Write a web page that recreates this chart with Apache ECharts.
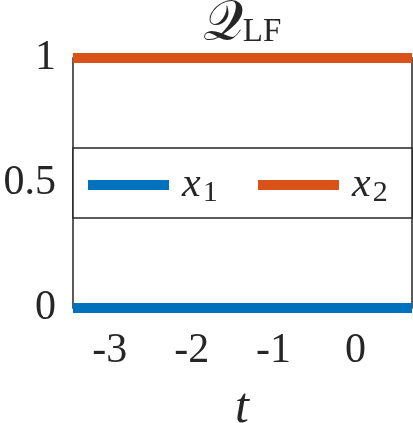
<!DOCTYPE html>
<html>
<head>
<meta charset="utf-8">
<script src="https://cdn.jsdelivr.net/npm/echarts@6/dist/echarts.min.js"></script>
<style>
html,body{margin:0;padding:0;background:#fff;}
#c{width:413px;height:423px;}
</style>
</head>
<body>
<div id="c"></div>
<script>
// Data
var tValues = [-3.45, 0.69];
var x1Values = [0, 0];
var x2Values = [1, 1];
var xTickLabels = [-3, -2, -1, 0];
var yTicks = [0, 0.5, 1];
var seriesNames = ['x1', 'x2'];
var seriesSubs = ['1', '2'];
var colors = ['#0072BD', '#D95319'];
var xAxisName = 't';

var FONT = 'Liberation Serif';
var TXT = '#262626';

function pairs(xs, ys) { return xs.map(function (x, i) { return [x, ys[i]]; }); }

var chart = echarts.init(document.getElementById('c'), null, {renderer: 'canvas'});

function legendFor(i, left) {
  return {
    show: true,
    data: [seriesNames[i]],
    left: left,
    top: 162,
    padding: 0,
    itemWidth: 81,
    itemHeight: 10,
    icon: 'rect',
    formatter: function () { return '{x|x}{s|' + seriesSubs[i] + '}'; },
    textStyle: {
      padding: [0, 0, 0, 8],
      rich: {
        x: {fontFamily: FONT, fontStyle: 'italic', fontSize: 42, color: TXT, lineHeight: 42},
        s: {fontFamily: FONT, fontSize: 30, color: TXT, padding: [16, 0, 0, 2], lineHeight: 42}
      }
    }
  };
}

var option = {
  animation: false,
  backgroundColor: '#fff',
  title: [{
    text: '{q|\uD835\uDCAC}{s|LF}',
    left: 242,
    textAlign: 'center',
    top: -4,
    padding: 0,
    textStyle: {
      fontWeight: 'normal',
      rich: {
        q: {fontFamily: FONT, fontSize: 56, fontWeight: 'normal', color: TXT, lineHeight: 56},
        s: {fontFamily: FONT, fontSize: 33, fontWeight: 'normal', color: TXT, padding: [16, 0, 0, 0], lineHeight: 56}
      }
    }
  }, {
    text: '{t|' + xAxisName + '}',
    left: 242,
    textAlign: 'center',
    top: 384,
    padding: 0,
    textStyle: {
      fontWeight: 'normal',
      rich: {t: {fontFamily: FONT, fontStyle: 'italic', fontWeight: 'normal', fontSize: 50, color: TXT, lineHeight: 50}}
    }
  }],
  grid: {
    left: 73, right: 1, top: 58, bottom: 115,
    outerBoundsMode: 'none',
    containLabel: false,
    show: true, borderColor: TXT, borderWidth: 1.5, backgroundColor: 'transparent'
  },
  graphic: [{
    type: 'rect',
    shape: {x: 73, y: 148, width: 339, height: 70},
    style: {fill: '#fff', stroke: TXT, lineWidth: 1.5},
    z: 1
  }],
  legend: [legendFor(0, 88), legendFor(1, 258)],
  xAxis: {
    type: 'value',
    min: tValues[0],
    max: tValues[tValues.length - 1],
    axisLine: {show: false},
    axisTick: {show: false},
    splitLine: {show: false},
    axisLabel: {
      customValues: xTickLabels,
      fontFamily: FONT, fontSize: 42, color: TXT, margin: 22,
      formatter: function (v) { return String(v); }
    }
  },
  yAxis: {
    type: 'value',
    min: 0, max: 1, interval: 0.5,
    axisLine: {show: false},
    axisTick: {show: false},
    splitLine: {show: false},
    axisLabel: {
      customValues: yTicks,
      fontFamily: FONT, fontSize: 42, color: TXT, margin: 17,
      formatter: function (v) { return String(v); }
    }
  },
  series: [
    {name: seriesNames[0], type: 'line', data: pairs(tValues, x1Values), symbol: 'none', clip: false,
     lineStyle: {width: 10, color: colors[0], cap: 'butt'}, itemStyle: {color: colors[0]}, z: 3},
    {name: seriesNames[1], type: 'line', data: pairs(tValues, x2Values), symbol: 'none', clip: false,
     lineStyle: {width: 10, color: colors[1], cap: 'butt'}, itemStyle: {color: colors[1]}, z: 3}
  ]
};
chart.setOption(option);
</script>
</body>
</html>
